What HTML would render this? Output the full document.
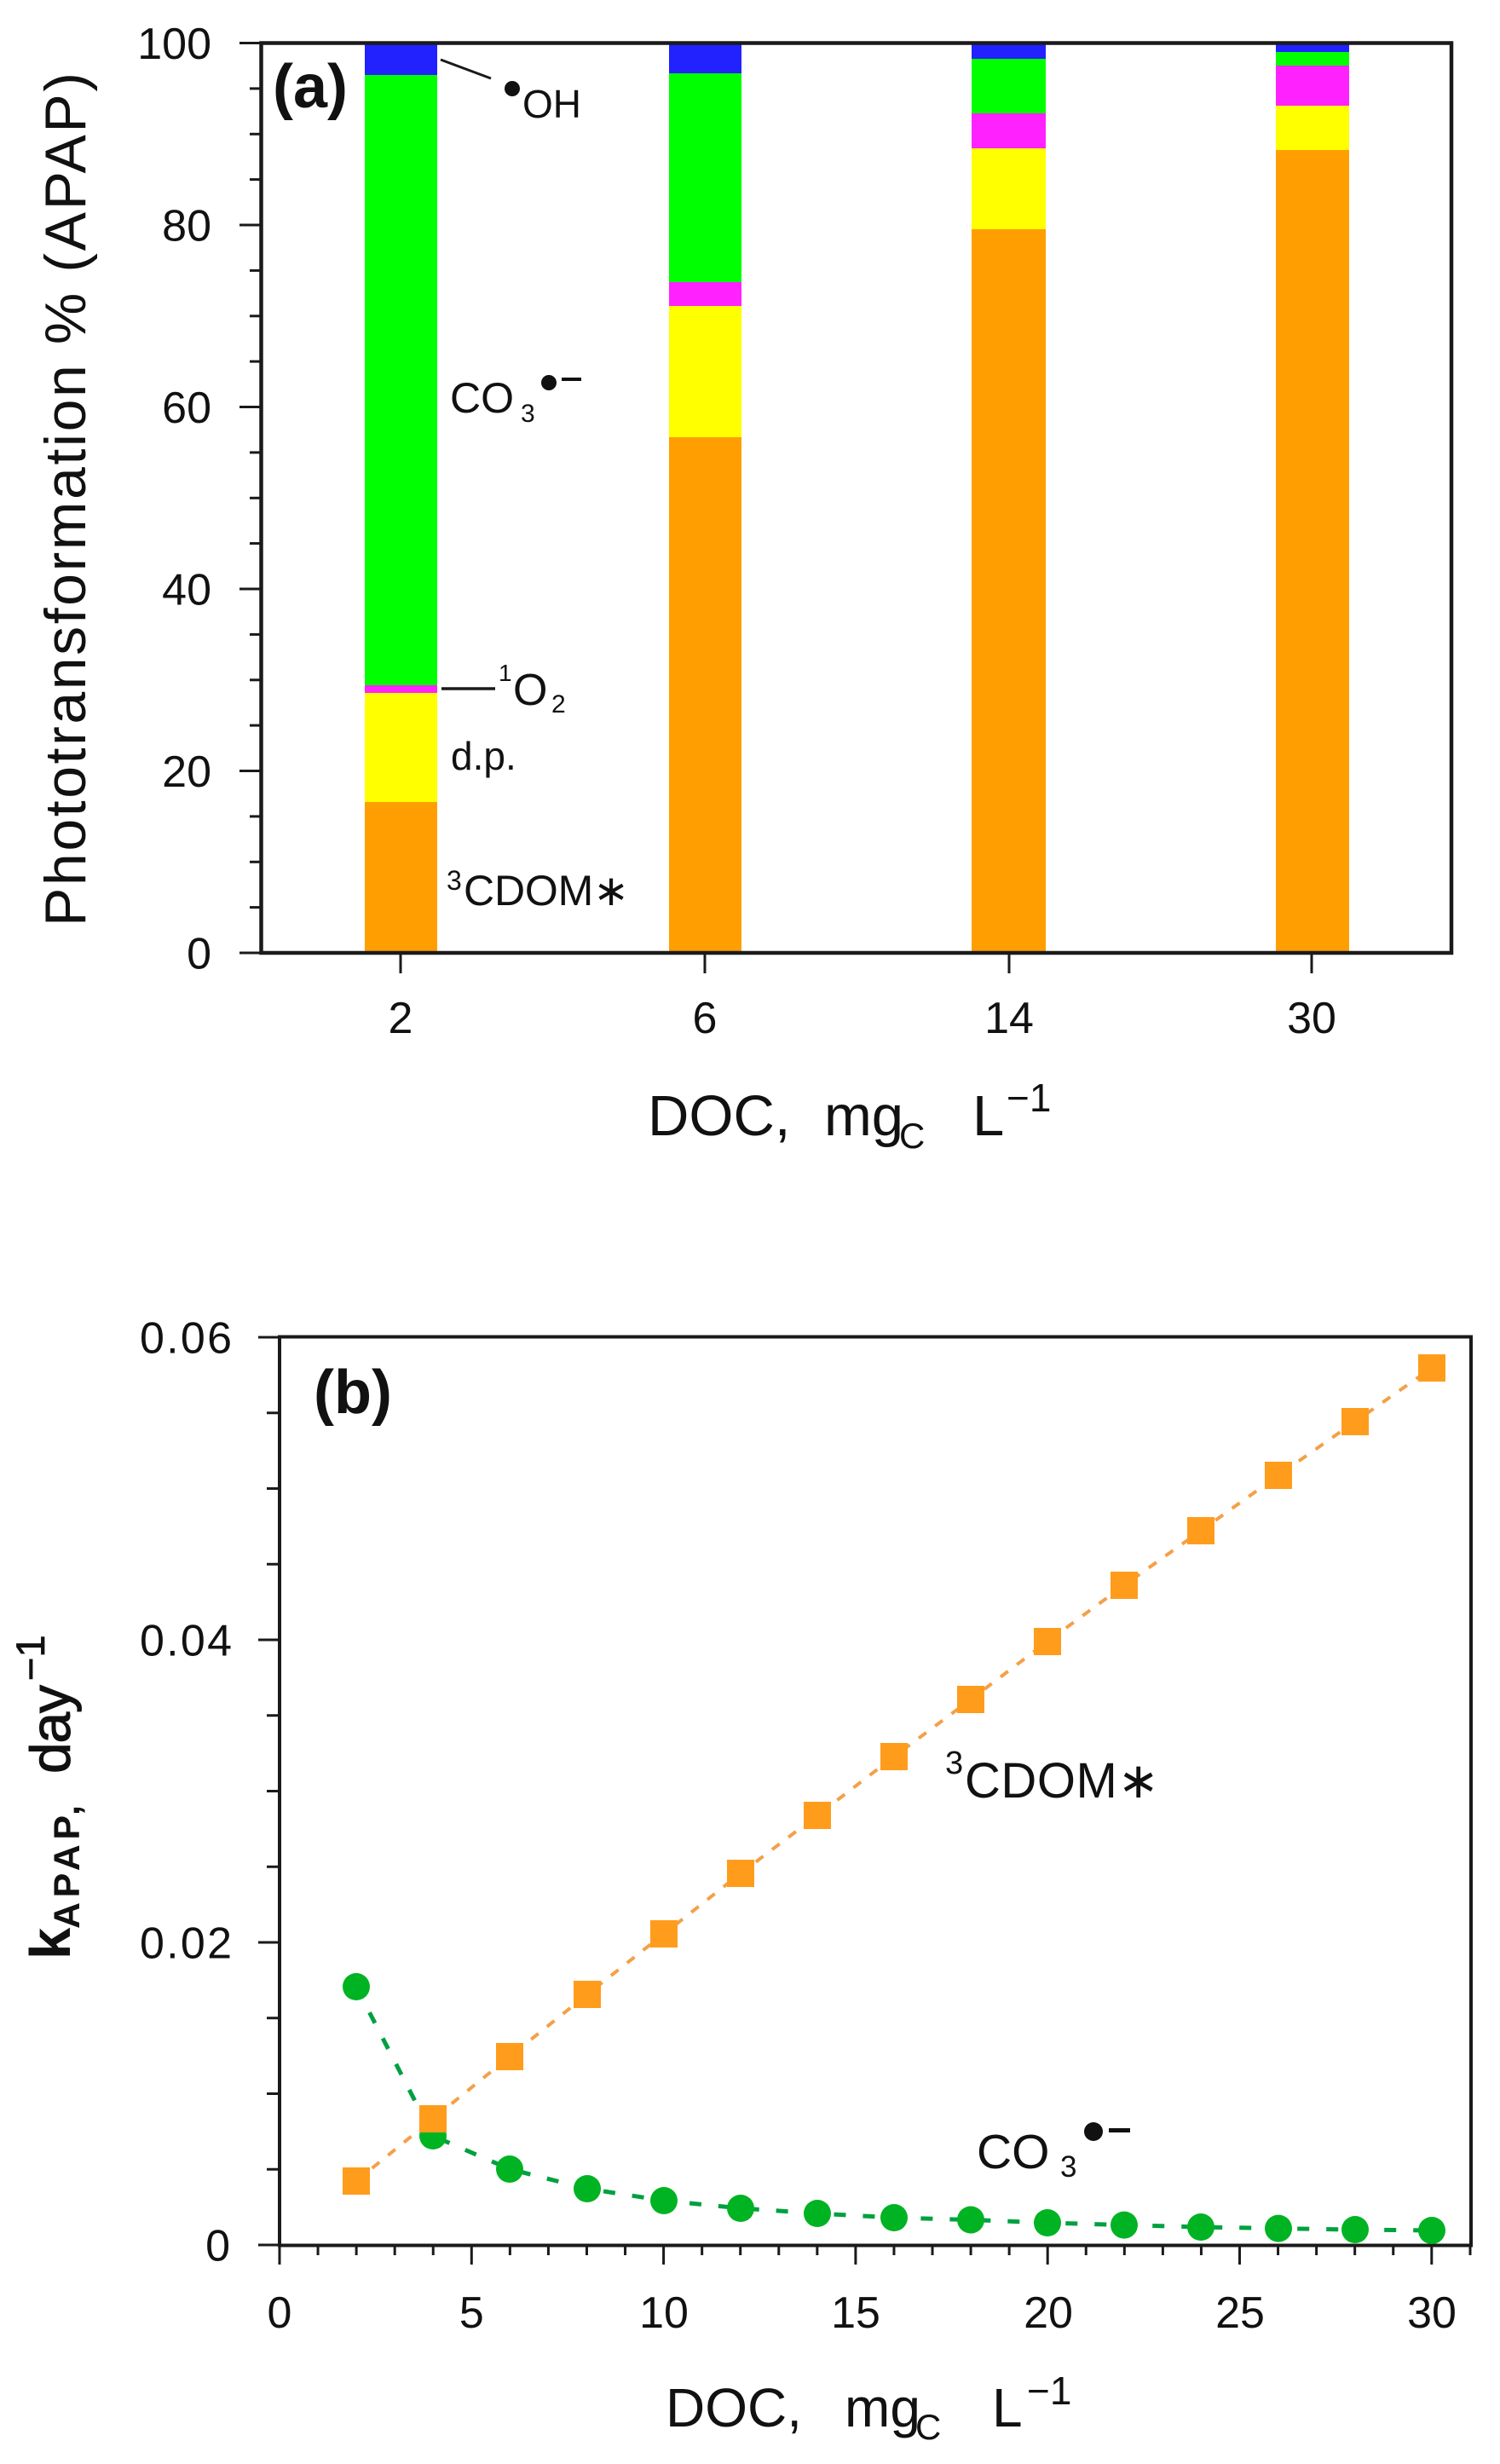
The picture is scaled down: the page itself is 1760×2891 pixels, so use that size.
<!DOCTYPE html>
<html>
<head>
<meta charset="utf-8">
<style>
html,body{margin:0;padding:0;background:#fff;}
svg{display:block;}
text{font-family:"Liberation Sans",Arial,sans-serif;fill:#111;}
</style>
</head>
<body>
<svg width="1760" height="2891" viewBox="0 0 1760 2891" xmlns="http://www.w3.org/2000/svg">
<rect width="1760" height="2891" fill="#fff"/>

<!-- ================= PANEL A ================= -->
<g>
  <rect x="428" y="50" width="85" height="38" fill="#2222ff"/>
  <rect x="428" y="88" width="85" height="716" fill="#00ff00"/>
  <rect x="428" y="804" width="85" height="9" fill="#ff22ff"/>
  <rect x="428" y="813" width="85" height="128" fill="#ffff00"/>
  <rect x="428" y="941" width="85" height="177" fill="#ff9e00"/>

  <rect x="785" y="50" width="85" height="36" fill="#2222ff"/>
  <rect x="785" y="86" width="85" height="245" fill="#00ff00"/>
  <rect x="785" y="331" width="85" height="28" fill="#ff22ff"/>
  <rect x="785" y="359" width="85" height="154" fill="#ffff00"/>
  <rect x="785" y="513" width="85" height="605" fill="#ff9e00"/>

  <rect x="1140" y="50" width="87" height="19" fill="#2222ff"/>
  <rect x="1140" y="69" width="87" height="64" fill="#00ff00"/>
  <rect x="1140" y="133" width="87" height="41" fill="#ff22ff"/>
  <rect x="1140" y="174" width="87" height="95" fill="#ffff00"/>
  <rect x="1140" y="269" width="87" height="849" fill="#ff9e00"/>

  <rect x="1497" y="50" width="86" height="11" fill="#2222ff"/>
  <rect x="1497" y="61" width="86" height="16" fill="#00ff00"/>
  <rect x="1497" y="77" width="86" height="47" fill="#ff22ff"/>
  <rect x="1497" y="124" width="86" height="52" fill="#ffff00"/>
  <rect x="1497" y="176" width="86" height="942" fill="#ff9e00"/>
</g>

<rect x="306.5" y="50.5" width="1396.5" height="1067.5" fill="none" stroke="#1a1a1a" stroke-width="4.5"/>

<g stroke="#1a1a1a" stroke-width="3">
  <line x1="281" y1="1118" x2="306" y2="1118"/>
  <line x1="293" y1="1064.6" x2="306" y2="1064.6"/>
  <line x1="293" y1="1011.3" x2="306" y2="1011.3"/>
  <line x1="293" y1="957.9" x2="306" y2="957.9"/>
  <line x1="281" y1="904.5" x2="306" y2="904.5"/>
  <line x1="293" y1="851.1" x2="306" y2="851.1"/>
  <line x1="293" y1="797.8" x2="306" y2="797.8"/>
  <line x1="293" y1="744.4" x2="306" y2="744.4"/>
  <line x1="281" y1="691" x2="306" y2="691"/>
  <line x1="293" y1="637.6" x2="306" y2="637.6"/>
  <line x1="293" y1="584.3" x2="306" y2="584.3"/>
  <line x1="293" y1="530.9" x2="306" y2="530.9"/>
  <line x1="281" y1="477.5" x2="306" y2="477.5"/>
  <line x1="293" y1="424.1" x2="306" y2="424.1"/>
  <line x1="293" y1="370.8" x2="306" y2="370.8"/>
  <line x1="293" y1="317.4" x2="306" y2="317.4"/>
  <line x1="281" y1="264" x2="306" y2="264"/>
  <line x1="293" y1="210.6" x2="306" y2="210.6"/>
  <line x1="293" y1="157.3" x2="306" y2="157.3"/>
  <line x1="293" y1="103.9" x2="306" y2="103.9"/>
  <line x1="281" y1="50.5" x2="306" y2="50.5"/>
  <line x1="470" y1="1118" x2="470" y2="1142"/>
  <line x1="827" y1="1118" x2="827" y2="1142"/>
  <line x1="1184" y1="1118" x2="1184" y2="1142"/>
  <line x1="1539" y1="1118" x2="1539" y2="1142"/>
</g>

<g font-size="52" text-anchor="end">
  <text x="248" y="1136.5">0</text>
  <text x="248" y="923">20</text>
  <text x="248" y="709.5">40</text>
  <text x="248" y="496">60</text>
  <text x="248" y="282.5">80</text>
  <text x="248" y="69">100</text>
</g>
<g font-size="52" text-anchor="middle">
  <text x="470" y="1212">2</text>
  <text x="827" y="1212">6</text>
  <text x="1184" y="1212">14</text>
  <text x="1539" y="1212">30</text>
</g>

<text transform="translate(100,1087) rotate(-90)" font-size="68" textLength="1002" lengthAdjust="spacing">Phototransformation % (APAP)</text>

<text x="760" y="1332" font-size="67">DOC,</text>
<text x="967" y="1332" font-size="67">mg</text>
<text x="1055" y="1347" font-size="42">C</text>
<text x="1141" y="1332" font-size="67">L</text>
<text x="1181" y="1304" font-size="46">−1</text>

<text x="320" y="126" font-size="72" font-weight="bold">(a)</text>

<line x1="517" y1="70" x2="576" y2="92" stroke="#1a1a1a" stroke-width="3"/>
<circle cx="601" cy="104" r="9" fill="#111"/>
<text x="613" y="138" font-size="46">OH</text>

<text x="528" y="484" font-size="50">CO</text>
<text x="611" y="495" font-size="30">3</text>
<circle cx="644" cy="449" r="9" fill="#111"/>
<rect x="659" y="443" width="23" height="4" fill="#111"/>

<line x1="518" y1="808" x2="581" y2="808" stroke="#1a1a1a" stroke-width="3.5"/>
<text x="585" y="799" font-size="28">1</text>
<text x="602" y="827" font-size="52">O</text>
<text x="647" y="836" font-size="30">2</text>

<text x="529" y="903" font-size="46">d.p.</text>

<text x="524" y="1044" font-size="32">3</text>
<text x="544" y="1062" font-size="50" textLength="194" lengthAdjust="spacing">CDOM<tspan font-family="DejaVu Sans">∗</tspan></text>

<!-- ================= PANEL B ================= -->
<rect x="328" y="1568.5" width="1398" height="1066" fill="none" stroke="#1a1a1a" stroke-width="4"/>

<g stroke="#1a1a1a" stroke-width="3">
  <line x1="303" y1="2634" x2="328" y2="2634"/>
  <line x1="313" y1="2545.25" x2="328" y2="2545.25"/>
  <line x1="313" y1="2456.5" x2="328" y2="2456.5"/>
  <line x1="313" y1="2367.75" x2="328" y2="2367.75"/>
  <line x1="303" y1="2279" x2="328" y2="2279"/>
  <line x1="313" y1="2190.25" x2="328" y2="2190.25"/>
  <line x1="313" y1="2101.5" x2="328" y2="2101.5"/>
  <line x1="313" y1="2012.75" x2="328" y2="2012.75"/>
  <line x1="303" y1="1924" x2="328" y2="1924"/>
  <line x1="313" y1="1835.25" x2="328" y2="1835.25"/>
  <line x1="313" y1="1746.5" x2="328" y2="1746.5"/>
  <line x1="313" y1="1657.75" x2="328" y2="1657.75"/>
  <line x1="303" y1="1569" x2="328" y2="1569"/>
</g>
<g stroke="#1a1a1a" stroke-width="3">
  <line x1="328" y1="2634" x2="328" y2="2657"/>
  <line x1="373.06" y1="2634" x2="373.06" y2="2646"/>
  <line x1="418.12" y1="2634" x2="418.12" y2="2646"/>
  <line x1="463.18" y1="2634" x2="463.18" y2="2646"/>
  <line x1="508.24" y1="2634" x2="508.24" y2="2646"/>
  <line x1="553.3" y1="2634" x2="553.3" y2="2657"/>
  <line x1="598.36" y1="2634" x2="598.36" y2="2646"/>
  <line x1="643.42" y1="2634" x2="643.42" y2="2646"/>
  <line x1="688.48" y1="2634" x2="688.48" y2="2646"/>
  <line x1="733.54" y1="2634" x2="733.54" y2="2646"/>
  <line x1="778.6" y1="2634" x2="778.6" y2="2657"/>
  <line x1="823.66" y1="2634" x2="823.66" y2="2646"/>
  <line x1="868.72" y1="2634" x2="868.72" y2="2646"/>
  <line x1="913.78" y1="2634" x2="913.78" y2="2646"/>
  <line x1="958.84" y1="2634" x2="958.84" y2="2646"/>
  <line x1="1003.9" y1="2634" x2="1003.9" y2="2657"/>
  <line x1="1048.96" y1="2634" x2="1048.96" y2="2646"/>
  <line x1="1094.02" y1="2634" x2="1094.02" y2="2646"/>
  <line x1="1139.08" y1="2634" x2="1139.08" y2="2646"/>
  <line x1="1184.14" y1="2634" x2="1184.14" y2="2646"/>
  <line x1="1229.2" y1="2634" x2="1229.2" y2="2657"/>
  <line x1="1274.26" y1="2634" x2="1274.26" y2="2646"/>
  <line x1="1319.32" y1="2634" x2="1319.32" y2="2646"/>
  <line x1="1364.38" y1="2634" x2="1364.38" y2="2646"/>
  <line x1="1409.44" y1="2634" x2="1409.44" y2="2646"/>
  <line x1="1454.5" y1="2634" x2="1454.5" y2="2657"/>
  <line x1="1499.56" y1="2634" x2="1499.56" y2="2646"/>
  <line x1="1544.62" y1="2634" x2="1544.62" y2="2646"/>
  <line x1="1589.68" y1="2634" x2="1589.68" y2="2646"/>
  <line x1="1634.74" y1="2634" x2="1634.74" y2="2646"/>
  <line x1="1679.8" y1="2634" x2="1679.8" y2="2657"/>
  <line x1="1725" y1="2634" x2="1725" y2="2646"/>
</g>

<g font-size="52" text-anchor="end">
  <text x="270" y="2652.5">0</text>
  <text x="272" y="2297.5" textLength="108" lengthAdjust="spacing">0.02</text>
  <text x="272" y="1942.5" textLength="108" lengthAdjust="spacing">0.04</text>
  <text x="272" y="1587.5" textLength="108" lengthAdjust="spacing">0.06</text>
</g>
<g font-size="52" text-anchor="middle">
  <text x="328" y="2731">0</text>
  <text x="553.3" y="2731">5</text>
  <text x="779" y="2731">10</text>
  <text x="1004" y="2731">15</text>
  <text x="1230" y="2731">20</text>
  <text x="1455" y="2731">25</text>
  <text x="1680" y="2731">30</text>
</g>

<text transform="translate(82,2299) rotate(-90)" font-size="67" font-weight="bold">k</text>
<text transform="translate(93,2263) rotate(-90)" font-size="43" font-weight="bold" textLength="145" lengthAdjust="spacing">APAP,</text>
<text transform="translate(82,2081) rotate(-90)" font-size="66" stroke="#111" stroke-width="1" textLength="104" lengthAdjust="spacing">day</text>
<text transform="translate(52,1972) rotate(-90)" font-size="47" stroke="#111" stroke-width="0.8">−1</text>

<text x="781" y="2847" font-size="64">DOC,</text>
<text x="991" y="2847" font-size="64">mg</text>
<text x="1074" y="2862" font-size="42">C</text>
<text x="1164" y="2847" font-size="64">L</text>
<text x="1205" y="2821" font-size="46">−1</text>

<text x="368" y="1658" font-size="72" font-weight="bold">(b)</text>

<polyline fill="none" stroke="#00a040" stroke-width="5" stroke-dasharray="14 20"
  points="418,2331 508,2506 598,2545 689,2568 779,2582 869,2591 959,2597 1049,2602 1139,2604.5 1229,2608 1319,2610.6 1409,2613 1500,2614.6 1590,2616 1680,2617"/>
<g fill="#00b322">
  <circle cx="418" cy="2331" r="16"/>
  <circle cx="508" cy="2506" r="16"/>
  <circle cx="598" cy="2545" r="16"/>
  <circle cx="689" cy="2568" r="16"/>
  <circle cx="779" cy="2582" r="16"/>
  <circle cx="869" cy="2591" r="16"/>
  <circle cx="959" cy="2597" r="16"/>
  <circle cx="1049" cy="2602" r="16"/>
  <circle cx="1139" cy="2604.5" r="16"/>
  <circle cx="1229" cy="2608" r="16"/>
  <circle cx="1319" cy="2610.6" r="16"/>
  <circle cx="1409" cy="2613" r="16"/>
  <circle cx="1500" cy="2614.6" r="16"/>
  <circle cx="1590" cy="2616" r="16"/>
  <circle cx="1680" cy="2617" r="16"/>
</g>

<polyline fill="none" stroke="#f4a048" stroke-width="4" stroke-dasharray="11 13"
  points="418,2559 508,2486 598,2413 689,2340 779,2269 869,2198 959,2130 1049,2061 1139,1994 1229,1926 1319,1860 1409,1796 1500,1731 1590,1668 1680,1605"/>
<g fill="#ff9c1c">
  <rect x="402" y="2543" width="32" height="32"/>
  <rect x="492" y="2470" width="32" height="32"/>
  <rect x="582" y="2397" width="32" height="32"/>
  <rect x="673" y="2324" width="32" height="32"/>
  <rect x="763" y="2253" width="32" height="32"/>
  <rect x="853" y="2182" width="32" height="32"/>
  <rect x="943" y="2114" width="32" height="32"/>
  <rect x="1033" y="2045" width="32" height="32"/>
  <rect x="1123" y="1978" width="32" height="32"/>
  <rect x="1213" y="1910" width="32" height="32"/>
  <rect x="1303" y="1844" width="32" height="32"/>
  <rect x="1393" y="1780" width="32" height="32"/>
  <rect x="1484" y="1715" width="32" height="32"/>
  <rect x="1574" y="1652" width="32" height="32"/>
  <rect x="1664" y="1589" width="32" height="32"/>
</g>

<text x="1109" y="2081" font-size="38">3</text>
<text x="1132" y="2109" font-size="58" textLength="228" lengthAdjust="spacing">CDOM<tspan font-family="DejaVu Sans">∗</tspan></text>

<text x="1146" y="2544" font-size="57">CO</text>
<text x="1244" y="2554" font-size="35">3</text>
<circle cx="1283" cy="2501" r="11" fill="#111"/>
<rect x="1301" y="2497" width="25" height="5" fill="#111"/>

</svg>
</body>
</html>
